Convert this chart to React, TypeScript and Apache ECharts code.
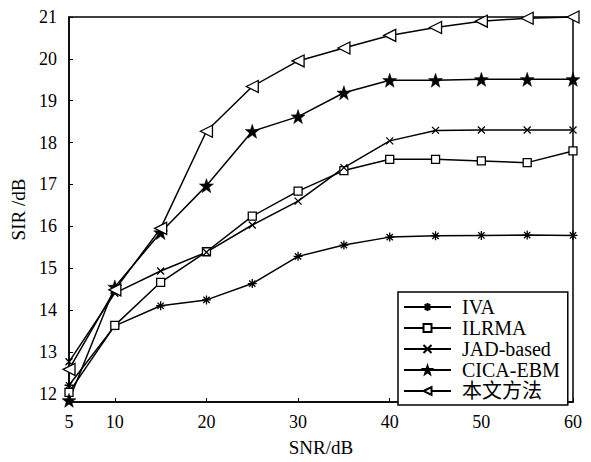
import React, { useEffect, useRef } from "react";
import * as echarts from "echarts";

const snrCategories = ["5", "10", "15", "20", "25", "30", "35", "40", "45", "50", "55", "60"];
const seriesNames = ["IVA", "ILRMA", "JAD-based", "CICA-EBM", "本文方法"];
const ivaValues = [12.2, 13.62, 14.1, 14.24, 14.63, 15.28, 15.55, 15.74, 15.77, 15.78, 15.79, 15.78];
const ilrmaValues = [12.03, 13.63, 14.66, 15.39, 16.24, 16.84, 17.33, 17.6, 17.6, 17.56, 17.52, 17.8];
const jadValues = [12.76, 14.4, 14.93, 15.38, 16.03, 16.6, 17.4, 18.04, 18.29, 18.3, 18.3, 18.3];
const cicaValues = [11.84, 14.55, 15.85, 16.97, 18.27, 18.62, 19.19, 19.49, 19.49, 19.51, 19.51, 19.51];
const proposedValues = [12.58, 14.48, 15.95, 18.27, 19.34, 19.95, 20.26, 20.56, 20.75, 20.9, 20.97, 21.0];

const FONT = "'Liberation Serif', 'Times New Roman', 'Noto Sans CJK SC', serif";

const ASTERISK = "path://M5,0L5,10M0,5L10,5M1.5,1.5L8.5,8.5M1.5,8.5L8.5,1.5";
const CROSS = "path://M0,0L10,10M0,10L10,0";
const STAR =
  "path://M0,-10L2.35,-3.24L9.51,-3.09L3.8,1.24L5.88,8.09L0,4L-5.88,8.09L-3.8,1.24L-9.51,-3.09L-2.35,-3.24Z";
const LEFT_TRI = "path://M0,5L10,0L10,10Z";

export default function App() {
  const ref = useRef<HTMLDivElement>(null);
  useEffect(() => {
    document.body.style.margin = "0";
    if (!ref.current) return;
    const chart = echarts.init(ref.current, null, { renderer: "svg" });
    const showIdx = (index: number, value: string) => index === 0 || Number(value) % 10 === 0;
    const lineStyle = { color: "#000", width: 1.5 };
    const mk = (name: string, data: number[], symbol: string, size: number, itemStyle: any) => ({
      name,
      type: "line",
      data,
      symbol,
      symbolSize: size,
      clip: false,
      lineStyle,
      itemStyle,
      emphasis: { disabled: true },
    });
    chart.setOption({
      animation: false,
      backgroundColor: "#fff",
      grid: {
        left: 69,
        right: 18,
        top: 17,
        bottom: 51,
        show: true,
        borderColor: "#000",
        borderWidth: 1.5,
      },
      legend: {
        left: 398,
        top: 292,
        orient: "vertical",
        selectedMode: false,
        data: seriesNames,
        itemWidth: 47,
        itemHeight: 10,
        itemGap: 1,
        padding: [5, 8, 4, 5],
        borderColor: "#000",
        borderWidth: 1.5,
        backgroundColor: "#fff",
        textStyle: { fontFamily: FONT, fontSize: 20, lineHeight: 20, color: "#000", padding: [0, 0, 0, 6] },
      },
      xAxis: {
        type: "category",
        data: snrCategories,
        boundaryGap: false,
        name: "SNR/dB",
        nameLocation: "middle",
        nameGap: 36,
        nameTextStyle: { fontFamily: FONT, fontSize: 19, color: "#000" },
        axisLine: { show: true, lineStyle: { color: "#000", width: 1.5 } },
        axisTick: { show: true, inside: true, length: 4, interval: showIdx, lineStyle: { color: "#000" } },
        axisLabel: { interval: showIdx, fontFamily: FONT, fontSize: 18, color: "#000", margin: 11 },
        splitLine: { show: false },
      },
      yAxis: {
        type: "value",
        min: 11.8,
        max: 21,
        minInterval: 1,
        maxInterval: 1,
        splitNumber: 10,
        name: "SIR /dB",
        nameLocation: "middle",
        nameGap: 35,
        nameTextStyle: { fontFamily: FONT, fontSize: 19, color: "#000" },
        axisLine: { show: true, lineStyle: { color: "#000", width: 1.5 } },
        axisTick: { show: true, inside: true, length: 4, lineStyle: { color: "#000" } },
        axisLabel: {
          showMinLabel: false,
          fontFamily: FONT,
          fontSize: 18,
          color: "#000",
          margin: 12,
          formatter: (v: number) => (Math.abs(v - Math.round(v)) < 1e-6 ? String(Math.round(v)) : ""),
        },
        splitLine: { show: false },
      },
      series: [
        mk(seriesNames[0], ivaValues, ASTERISK, 9, { color: "#000", borderColor: "#000", borderWidth: 1.3 }),
        mk(seriesNames[1], ilrmaValues, "rect", 8, { color: "#fff", borderColor: "#000", borderWidth: 1.3 }),
        mk(seriesNames[2], jadValues, CROSS, 7, { color: "#000", borderColor: "#000", borderWidth: 1.3 }),
        mk(seriesNames[3], cicaValues, STAR, 14, { color: "#000", borderColor: "#000", borderWidth: 0.5 }),
        mk(seriesNames[4], proposedValues, LEFT_TRI, 12, { color: "#fff", borderColor: "#000", borderWidth: 1.3 }),
      ],
    });
    return () => chart.dispose();
  }, []);
  return <div ref={ref} style={{ width: 591, height: 462 }} />;
}
